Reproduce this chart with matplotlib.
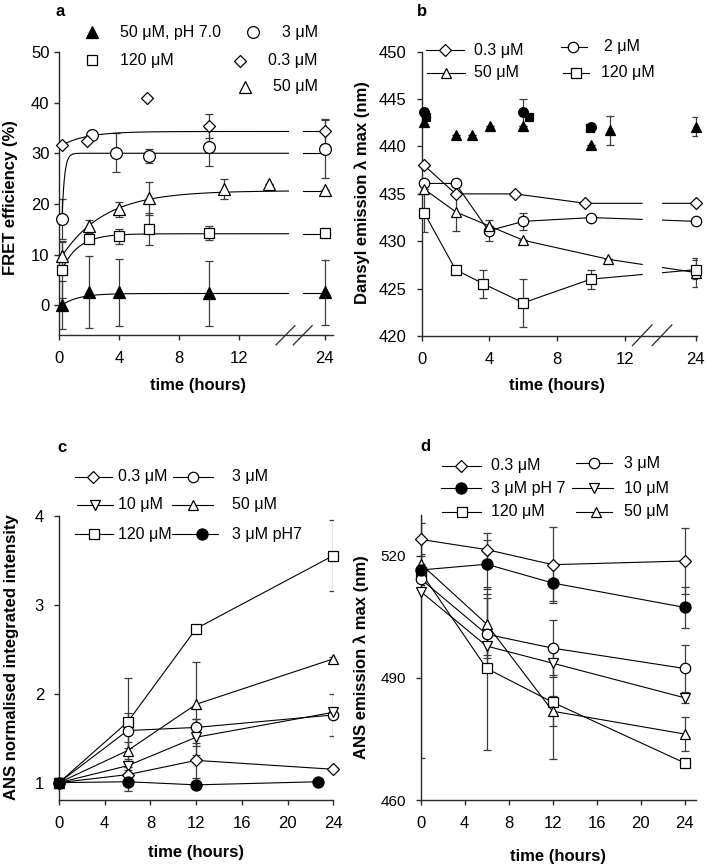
import matplotlib.pyplot as plt
from matplotlib.lines import Line2D
import numpy as np

plt.rcParams['font.family'] = ['Liberation Sans', 'DejaVu Sans']
plt.rcParams['axes.linewidth'] = 1.0
plt.rcParams['xtick.direction'] = 'out'
plt.rcParams['ytick.direction'] = 'out'

# ---------------- panel a : FRET efficiency ----------------
a_ph7_t = [0.2, 2.0, 4.0, 10.0, 24]
a_ph7 = [0.0, 2.6, 2.5, 2.3, 2.5]
a_ph7_err = [4.7, 7.2, 6.6, 6.5, 6.5]
a_120_t = [0.2, 2.0, 4.0, 6.0, 10.0, 24]
a_120 = [7.0, 13.0, 13.6, 15.0, 14.2, 14.2]
a_120_err = [5.5, 0, 1.5, 3.2, 1.4, 0]
a_3_t = [0.2, 2.2, 3.8, 6.0, 10.0, 24]
a_3 = [17.0, 33.6, 30.1, 29.5, 31.3, 30.9]
a_3_err = [4.0, 0, 3.9, 1.4, 3.9, 5.7]
a_03_t = [0.2, 1.9, 5.9, 10.0, 24]
a_03 = [31.6, 32.5, 41.0, 35.4, 34.3]
a_03_err = [0, 0, 0, 2.4, 2.4]
a_50_t = [0.2, 2.0, 4.0, 6.0, 11.0, 14.0, 24]
a_50 = [9.7, 15.6, 18.9, 21.1, 23.0, 23.9, 22.7]
a_50_err = [3.0, 1.3, 1.5, 3.2, 2.0, 0, 0]
# single exponential fits: plateau, start value, rate (1/h)
fit_A = [34.3, 30.0, 22.6, 14.1, 2.3]
fit_y0 = [31.6, 17.0, 9.7, 7.0, 0.0]
fit_k = [0.6, 6.0, 0.35, 0.9, 0.9]

# ---------------- panel b : dansyl emission ----------------
b_03_t = [0.15, 2.0, 5.5, 9.65, 24]
b_03 = [438.0, 435.0, 435.0, 434.0, 434.0]
b_2_t = [0.15, 2.0, 3.95, 6.0, 10.0, 24]
b_2 = [436.1, 436.1, 431.1, 432.1, 432.5, 432.1]
b_2_err = [0, 0, 1.1, 0.9, 0.3, 0]
b_50_t = [0.15, 2.0, 4.0, 6.0, 11.0, 24]
b_50 = [435.5, 433.1, 431.6, 430.1, 428.1, 426.7]
b_50_err = [0, 2.0, 0, 0, 0, 1.5]
b_120_t = [0.15, 2.0, 3.65, 6.0, 10.0, 24]
b_120 = [433.0, 427.0, 425.5, 423.5, 426.0, 427.0]
b_120_err = [2.0, 0, 1.5, 2.5, 1.0, 1.0]
bf_circ_t = [0.15, 6.0, 10.0]
bf_circ = [443.6, 443.6, 442.1]
bf_circ_err = [0.4, 1.4, 0]
bf_sq_t = [0.25, 6.35, 9.95]
bf_sq = [443.1, 443.1, 442.0]
bf_tri_t = [0.15, 2.0, 3.0, 4.05, 6.0, 10.0, 11.1, 24]
bf_tri = [442.6, 441.2, 441.2, 442.2, 442.2, 440.2, 441.7, 442.1]
bf_tri_err = [0.4, 0, 0, 0, 0, 0, 1.5, 1.0]

# ---------------- panel c : ANS integrated intensity ----------------
c_t = [0, 6, 12, 24]
c_03 = [1.0, 1.09, 1.25, 1.15]
c_03_err = [0, 0.08, 0.2, 0.02]
c_3 = [1.0, 1.585, 1.62, 1.76]
c_3_err = [0, 0.2, 0.1, 0.24]
c_10 = [1.0, 1.19, 1.51, 1.79]
c_10_err = [0, 0.05, 0.2, 0.02]
c_50 = [1.0, 1.36, 1.88, 2.39]
c_50_err = [0, 0.1, 0.47, 0.02]
c_120 = [1.0, 1.68, 2.73, 3.55]
c_120_err = [0, 0.5, 0.02, 0.4]
c_ph7_t = [0, 6, 12, 22.7]
c_ph7 = [1.0, 1.01, 0.975, 1.01]
c_ph7_err = [0, 0.1, 0, 0]

# ---------------- panel d : ANS emission max ----------------
d_t = [0, 6, 12, 24]
d_03 = [524.0, 521.5, 517.8, 518.7]
d_03_err = [4.0, 4.2, 9.3, 8.0]
d_ph7 = [516.5, 517.9, 513.3, 507.3]
d_ph7_err = [1.5, 6.0, 4.5, 5.0]
d_3 = [514.3, 500.7, 497.3, 492.3]
d_3_err = [1.5, 9.0, 7.0, 5.8]
d_10 = [511.2, 497.8, 493.6, 485.1]
d_10_err = [41.0, 3.0, 3.0, 1.3]
d_50 = [518.0, 503.2, 481.8, 476.2]
d_50_err = [2.5, 7.5, 3.7, 4.2]
d_120 = [516.0, 492.3, 484.0, 469.1]
d_120_err = [1.0, 20.0, 14.0, 0]

W, H = 708, 868
fig = plt.figure(figsize=(W / 100, H / 100), dpi=100)
EC = '#3c3c3c'
SP = '#2a2a2a'
LEG = 11.5


def add_ax(l, t, r, b):
    ax = fig.add_axes([l / W, 1 - b / H, (r - l) / W, (b - t) / H])
    for s in ['top', 'right']:
        ax.spines[s].set_visible(False)
    for s in ['left', 'bottom']:
        ax.spines[s].set_color(SP)
    ax.tick_params(colors=SP, labelcolor='black', length=3.8, width=1.0, labelsize=12)
    return ax


def series(ax, x, y, err, marker, ms, filled=False, line=True):
    if err is not None:
        ax.errorbar(x, y, yerr=err, fmt='none', ecolor=EC, elinewidth=0.9,
                    capsize=3, capthick=0.9, zorder=2)
    ax.plot(x, y, color='black', lw=0.8 if line else 0, marker=marker, ms=ms,
            mfc='black' if filled else 'white', mec='black', mew=0.9,
            zorder=3, clip_on=False)


def key(xm, y, marker, ms, label, xt, ha='left', filled=False, xl=None):
    yy = 1 - y / H
    if xl is not None:
        fig.add_artist(Line2D([xl[0] / W, xl[1] / W], [yy, yy], color='black',
                              lw=0.8, transform=fig.transFigure))
    fig.add_artist(Line2D([xm / W], [yy], marker=marker, ms=ms, ls='none',
                          mfc='black' if filled else 'white', mec='black', mew=0.9,
                          transform=fig.transFigure))
    fig.text(xt / W, yy, label, ha=ha, va='center', fontsize=LEG)


def slashes(ax, xs, half_w, y0, y1):
    tr = ax.get_xaxis_transform()
    for x in xs:
        ax.plot([x - half_w, x + half_w], [y0, y1], color=SP, lw=0.9,
                transform=tr, clip_on=False)


def label(x, y, s, rot=0, size=12):
    fig.text(x / W, 1 - y / H, s, ha='center', va='center', rotation=rot,
             fontsize=size, fontweight='bold')


# ===== a =====
def pos_a(h):
    h = np.asarray(h, float)
    return np.where(h > 20, h - 6.27, h)


ax = add_ax(59, 52, 333, 335)
for A, y0, k in zip(fit_A, fit_y0, fit_k):
    tt = np.linspace(0.2, 15.3, 300)
    ax.plot(tt, A - (A - y0) * np.exp(-k * (tt - 0.2)), color='black', lw=0.8, zorder=2.5)
    ax.plot([16.3, pos_a(24)], [A, A], color='black', lw=0.8, zorder=2.5)
series(ax, pos_a(a_ph7_t), a_ph7, a_ph7_err, '^', 8, filled=True, line=False)
series(ax, pos_a(a_120_t), a_120, a_120_err, 's', 7, line=False)
series(ax, pos_a(a_50_t), a_50, a_50_err, '^', 8, line=False)
series(ax, pos_a(a_3_t), a_3, a_3_err, 'o', 8.5, line=False)
series(ax, pos_a(a_03_t), a_03, a_03_err, 'D', 6.3, line=False)
ax.set_xlim(0, 18.27)
ax.set_ylim(-5.9, 50)
ax.set_yticks([0, 10, 20, 30, 40, 50])
tick_h = [0, 4, 8, 12, 24]
ax.set_xticks(pos_a(tick_h))
ax.set_xticklabels([str(t) for t in tick_h])
ax.tick_params(axis='x', pad=8)
ax.tick_params(axis='y', pad=3)
slashes(ax, [15.1, 16.25], 0.63, -0.035, 0.033)
key(92, 32, '^', 8, '50 μM, pH 7.0', 120, filled=True)
key(253, 32, 'o', 8.5, '3 μM', 318, ha='right')
key(92, 60, 's', 7, '120 μM', 120)
key(240, 61, 'D', 6.3, '0.3 μM', 318, ha='right')
key(245, 87, '^', 8, '50 μM', 318, ha='right')
label(60, 12, 'a', size=12)
label(11, 198, 'FRET efficiency (%)', rot=90)
label(198, 385, 'time (hours)')

# ===== b =====
def pos_b(h):
    h = np.asarray(h, float)
    return np.where(h > 20, h - 7.81, h)


def broken_line(ax, x, y, g0, g1):
    xd = np.linspace(x[0], x[-1], 600)
    yd = np.interp(xd, x, y)
    yd[(xd > g0) & (xd < g1)] = np.nan
    ax.plot(xd, yd, color='black', lw=0.8, zorder=2.5)


ax = add_ax(421.7, 51.7, 696.7, 336)
for t, v, e, m, ms in [(b_03_t, b_03, None, 'D', 5.8), (b_2_t, b_2, b_2_err, 'o', 7.5),
                       (b_50_t, b_50, b_50_err, '^', 7.5), (b_120_t, b_120, b_120_err, 's', 7)]:
    broken_line(ax, pos_b(t), v, 13.04, 14.22)
    series(ax, pos_b(t), v, e, m, ms, line=False)
series(ax, pos_b(bf_tri_t), bf_tri, bf_tri_err, '^', 7, filled=True, line=False)
series(ax, pos_b(bf_sq_t), bf_sq, None, 's', 6, filled=True, line=False)
series(ax, pos_b(bf_circ_t), bf_circ, bf_circ_err, 'o', 7, filled=True, line=False)
ax.set_xlim(0, 16.25)
ax.set_ylim(420, 450)
ax.set_yticks(np.arange(420, 451, 5))
ax.set_xticks(pos_b(tick_h))
ax.set_xticklabels([str(t) for t in tick_h])
ax.tick_params(axis='x', pad=8)
ax.tick_params(axis='y', pad=7)
slashes(ax, [13.03, 14.2], 0.58, -0.034, 0.039)
key(444.7, 50, 'D', 5.8, '0.3 μM', 474, xl=(425.7, 464))
key(573.3, 47, 'o', 7.5, '2 μM', 604, xl=(561, 587))
key(446, 72.7, '^', 7.5, '50 μM', 474, xl=(427, 465))
key(576, 72.7, 's', 7, '120 μM', 601, xl=(563, 589))
label(422, 11, 'b', size=12)
label(362, 193, 'Dansyl emission λ max (nm)', rot=90)
label(557, 385, 'time (hours)')

# ===== c =====
ax = add_ax(59, 515.5, 333.3, 800)
series(ax, c_t, c_120, c_120_err, 's', 7)
series(ax, c_t, c_50, c_50_err, '^', 7.5)
series(ax, c_t, c_3, c_3_err, 'o', 7.5)
series(ax, c_t, c_10, c_10_err, 'v', 7.5)
series(ax, c_t, c_03, c_03_err, 'D', 5.8)
series(ax, c_ph7_t, c_ph7, c_ph7_err, 'o', 8, filled=True)
ax.set_xlim(0, 24)
ax.set_ylim(0.805, 4.0)
ax.set_yticks([1, 2, 3, 4])
ax.set_xticks(np.arange(0, 25, 4))
ax.tick_params(axis='x', pad=8)
ax.tick_params(axis='y', pad=7)
key(93.3, 476.7, 'D', 5.8, '0.3 μM', 118.3, xl=(75, 111.7))
key(193, 476.7, 'o', 7.5, '3 μM', 231.7, xl=(173, 213))
key(95, 505, 'v', 7.5, '10 μM', 118.3, xl=(76.7, 113.3))
key(193, 505, '^', 7.5, '50 μM', 231.7, xl=(171.7, 213.3))
key(94.3, 534.3, 's', 7, '120 μM', 118.3, xl=(75, 113.3))
key(201.7, 534.3, 'o', 8, '3 μM pH7', 231.7, filled=True, xl=(171.7, 218.3))
label(62, 447, 'c', size=12)
label(12, 657, 'ANS normalised integrated intensity', rot=90)
label(196, 852, 'time (hours)')

# ===== d =====
ax = add_ax(420.7, 515, 695.7, 800)
series(ax, d_t, d_120, d_120_err, 's', 7)
series(ax, d_t, d_50, d_50_err, '^', 7.5)
series(ax, d_t, d_10, d_10_err, 'v', 7.5)
series(ax, d_t, d_3, d_3_err, 'o', 7.5)
series(ax, d_t, d_ph7, d_ph7_err, 'o', 8, filled=True)
series(ax, d_t, d_03, d_03_err, 'D', 5.8)
ax.set_xlim(0, 25)
ax.set_ylim(460, 530)
ax.set_yticks([460, 490, 520])
ax.set_xticks(np.arange(0, 25, 4))
ax.tick_params(axis='x', pad=8)
ax.tick_params(axis='y', pad=7, labelsize=11)
key(461.3, 466, 'D', 5.8, '0.3 μM', 490.7, xl=(442.3, 480.7))
key(594, 463.3, 'o', 7.5, '3 μM', 624, xl=(575.7, 612.3))
key(461.3, 488.3, 'o', 8, '3 μM pH 7', 490.7, filled=True, xl=(441.3, 480.7))
key(594, 488.3, 'v', 7.5, '10 μM', 624, xl=(572.3, 613.3))
key(462.3, 511.7, 's', 7, '120 μM', 490.7, xl=(442.3, 480.7))
key(595.7, 511.7, '^', 7.5, '50 μM', 624, xl=(575.7, 612.3))
label(425.7, 446, 'd', size=12)
label(361, 657, 'ANS emission λ max (nm)', rot=90)
label(558, 857, 'time (hours)')

fig.savefig('out.png', dpi=100)
